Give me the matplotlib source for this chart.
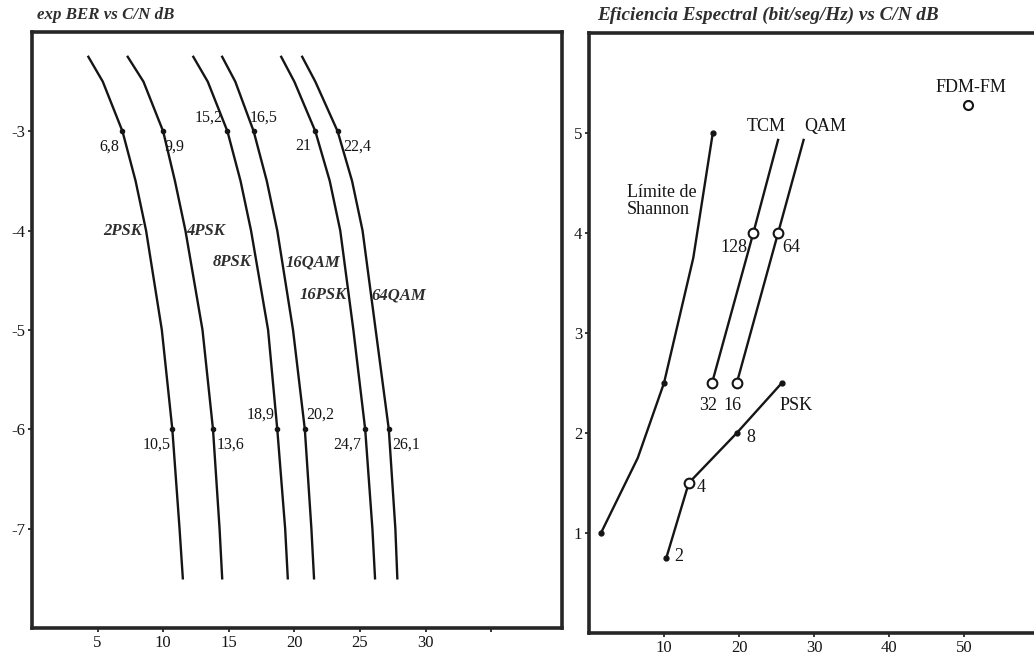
import numpy as np
import matplotlib
matplotlib.use("Agg")
import matplotlib.pyplot as plt

plt.rcParams['font.family'] = ['Liberation Serif', 'DejaVu Serif']

# =========================================================
# DATA - left panel (exp BER vs C/N dB)
# =========================================================

ber_levels = [-2.25, -2.5, -3, -3.5, -4, -5, -6, -7, -7.5]

curve_names = ["2PSK", "4PSK", "8PSK", "16QAM", "16PSK", "64QAM"]

cn_2psk = [4.3, 5.4, 6.9, 7.9, 8.7, 9.9, 10.7, 11.25, 11.5]
cn_4psk = [7.3, 8.5, 10.0, 10.9, 11.7, 13.0, 13.8, 14.3, 14.5]
cn_8psk = [12.3, 13.4, 14.9, 15.9, 16.7, 18.0, 18.7, 19.3, 19.5]
cn_16qam = [14.5, 15.5, 16.9, 17.9, 18.7, 19.9, 20.8, 21.3, 21.5]
cn_16psk = [19.0, 20.0, 21.6, 22.7, 23.5, 24.5, 25.4, 25.95, 26.15]
cn_64qam = [20.6, 21.6, 23.3, 24.4, 25.2, 26.2, 27.2, 27.7, 27.85]

curves = [cn_2psk, cn_4psk, cn_8psk, cn_16qam, cn_16psk, cn_64qam]

# labelled values at BER 1e-3 and 1e-6
labels_e3 = ["6,8", "9,9", "15,2", "16,5", "21", "22,4"]
labels_e6 = ["10,5", "13,6", "18,9", "20,2", "24,7", "26,1"]

# =========================================================
# DATA - right panel (spectral efficiency vs C/N dB)
# =========================================================

shannon_x = [1.6, 6.5, 10.0, 13.9, 16.5]
shannon_y = [1.0, 1.75, 2.5, 3.75, 5.0]
shannon_dots_x = [1.6, 10.0, 16.5]
shannon_dots_y = [1.0, 2.5, 5.0]

tcm_x = [16.4, 21.9, 25.2]
tcm_y = [2.5, 4.0, 4.93]

qam_x = [19.7, 25.2, 28.6]
qam_y = [2.5, 4.0, 4.93]

psk_x = [10.3, 13.3, 19.7, 25.7]
psk_y = [0.75, 1.5, 2.0, 2.5]

fdm_x = [50.5]
fdm_y = [5.28]

ink = '#151515'

fig = plt.figure(figsize=(10.34, 6.58), dpi=100)

# =========================================================
# LEFT PANEL
# =========================================================

ax1 = fig.add_axes([0.0309, 0.0456, 0.5126, 0.9058])

for cn in curves:
    ax1.plot(cn, ber_levels, color=ink, lw=1.7, solid_joinstyle='round')
    # dots at -3 and -6
    ax1.plot([cn[2], cn[6]], [ber_levels[2], ber_levels[6]], 'o',
             color=ink, ms=3)

num_kw = dict(fontsize=11.5, color=ink)

# labels at -3
e3_pos = [(-0.25, -3.15, 'right'), (0.1, -3.15, 'left'),
          (-0.4, -2.86, 'right'), (-0.3, -2.86, 'left'),
          (-0.3, -3.15, 'right'), (0.45, -3.15, 'left')]
for cn, lab, (dx, y, ha) in zip(curves, labels_e3, e3_pos):
    ax1.text(cn[2] + dx, y, lab, ha=ha, va='center', **num_kw)

# labels at -6
e6_pos = [(-0.15, -6.15, 'right'), (0.3, -6.15, 'left'),
          (-0.2, -5.85, 'right'), (0.1, -5.85, 'left'),
          (-0.3, -6.15, 'right'), (0.3, -6.15, 'left')]
for cn, lab, (dx, y, ha) in zip(curves, labels_e6, e6_pos):
    ax1.text(cn[6] + dx, y, lab, ha=ha, va='center', **num_kw)

# curve names
name_pos = [(8.4, -4.0, 'right'), (11.8, -4.0, 'left'),
            (16.75, -4.32, 'right'), (19.3, -4.32, 'left'),
            (24.0, -4.65, 'right'), (25.9, -4.65, 'left')]
for name, (x, y, ha) in zip(curve_names, name_pos):
    ax1.text(x, y, name, ha=ha, va='center', fontsize=12,
             fontweight='bold', fontstyle='italic', color='#2e2e2e')

ax1.set_xlim(0, 40.4)
ax1.set_ylim(-8, -2)
ax1.set_xticks([5, 10, 15, 20, 25, 30, 35])
ax1.set_xticklabels(["5", "10", "15", "20", "25", "30", ""])
ax1.set_yticks([-3, -4, -5, -6, -7])
ax1.set_yticklabels(["-3", "-4", "-5", "-6", "-7"])

fig.text(37 / 1034, 1 - 15 / 658, "exp BER vs C/N dB", ha='left',
         va='center', fontsize=12.2, fontweight='bold',
         fontstyle='italic', color='#2e2e2e')

# =========================================================
# RIGHT PANEL
# =========================================================

ax2 = fig.add_axes([0.5696, 0.038, 0.4304, 0.912])

ax2.plot(shannon_x, shannon_y, color=ink, lw=1.7, solid_joinstyle='round')
ax2.plot(shannon_dots_x, shannon_dots_y, 'o', color=ink, ms=3.5)

ax2.plot(tcm_x, tcm_y, color=ink, lw=1.7)
ax2.plot(tcm_x[:2], tcm_y[:2], 'o', mfc='white', mec=ink, mew=1.5, ms=7)

ax2.plot(qam_x, qam_y, color=ink, lw=1.7)
ax2.plot(qam_x[:2], qam_y[:2], 'o', mfc='white', mec=ink, mew=1.5, ms=7)

ax2.plot(psk_x, psk_y, color=ink, lw=1.7)
ax2.plot([psk_x[0], psk_x[2], psk_x[3]], [psk_y[0], psk_y[2], psk_y[3]],
         'o', color=ink, ms=3.5)
ax2.plot([psk_x[1]], [psk_y[1]], 'o', mfc='white', mec=ink, mew=1.5, ms=7)

ax2.plot(fdm_x, fdm_y, 'o', mfc='white', mec=ink, mew=1.5, ms=6.5)

lab_kw = dict(fontsize=13, color=ink, va='center')
ax2.text(5.1, 4.32, "Límite de\nShannon", ha='left', linespacing=0.95,
         **lab_kw)
ax2.text(23.6, 5.06, "TCM", ha='center', **lab_kw)
ax2.text(31.5, 5.06, "QAM", ha='center', **lab_kw)
ax2.text(50.9, 5.45, "FDM-FM", ha='center', **lab_kw)
ax2.text(21.1, 3.85, "128", ha='right', **lab_kw)
ax2.text(25.7, 3.85, "64", ha='left', **lab_kw)
ax2.text(15.9, 2.27, "32", ha='center', **lab_kw)
ax2.text(19.1, 2.27, "16", ha='center', **lab_kw)
ax2.text(27.6, 2.27, "PSK", ha='center', **lab_kw)
ax2.text(21.5, 1.95, "8", ha='center', **lab_kw)
ax2.text(14.9, 1.45, "4", ha='center', **lab_kw)
ax2.text(12.0, 0.76, "2", ha='center', **lab_kw)

ax2.set_xlim(0, 59.3)
ax2.set_ylim(0, 6)
ax2.set_xticks([10, 20, 30, 40, 50])
ax2.set_yticks([1, 2, 3, 4, 5])
ax2.spines['right'].set_visible(False)

fig.text(597 / 1034, 1 - 15 / 658,
         "Eficiencia Espectral (bit/seg/Hz) vs C/N dB", ha='left',
         va='center', fontsize=13.8, fontweight='bold',
         fontstyle='italic', color='#2e2e2e')

# common axis styling
for ax in (ax1, ax2):
    for sp in ax.spines.values():
        sp.set_linewidth(2.6)
        sp.set_color('#262626')
    ax.tick_params(direction='out', length=3, width=1.2, colors=ink,
                   labelsize=12, pad=2)

fig.savefig("out.png", dpi=100)
